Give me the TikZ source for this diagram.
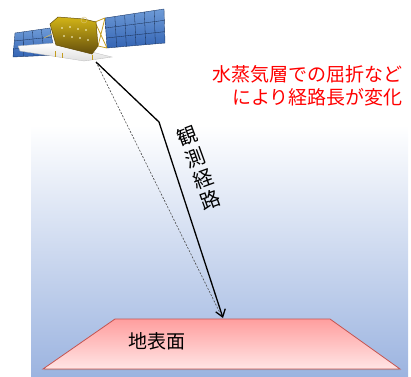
\documentclass[tikz,border=0pt]{standalone}
\usepackage{fontspec}
\newfontfamily\jpfont{Noto Sans CJK JP}
\usetikzlibrary{arrows.meta, calc, shadows}
\definecolor{skyblue}{RGB}{156,180,224}
\definecolor{skymid}{RGB}{226,233,247}
\definecolor{groundtop}{RGB}{255,158,158}
\definecolor{groundbot}{RGB}{255,229,229}
\definecolor{groundline}{RGB}{196,84,80}
\definecolor{panelblue}{RGB}{52,100,180}
\definecolor{panellight}{RGB}{110,155,215}
\definecolor{bodygold}{RGB}{196,156,30}
\definecolor{bodydark}{RGB}{100,78,12}

\begin{document}
\begin{tikzpicture}[x=1pt, y=-1pt,
  ray/.style={line width=1.3pt, -{Straight Barb[length=7pt, width=10pt]}},
  straightray/.style={line width=0.6pt, gray!60!black, dash pattern=on 2pt off 1.5pt},
  panel/.style={top color=panellight, bottom color=panelblue, draw=panelblue!60!black, line width=0.4pt},
  cellline/.style={panelblue!40!black, line width=0.3pt},
  jptext/.style={font=\jpfont\fontsize{19}{23}\selectfont, inner sep=0pt}
]
  \useasboundingbox (0,0) rectangle (411,376);

  % sky band
  \shade[top color=white, middle color=skymid, bottom color=skyblue] (31,125) rectangle (408,376);

  % ground surface
  \shade[top color=groundtop, bottom color=groundbot, draw=groundline, line width=0.8pt,
    drop shadow={shadow xshift=0.8pt, shadow yshift=-1.2pt, opacity=0.35}]
    (115,319) -- (330,319) -- (400,369) -- (43,369) -- cycle;
  \node[jptext] (ground) at (157,341) {地表面};

  % satellite: solar panels
  \coordinate (la) at (15,33);  \coordinate (lb) at (50,28);
  \coordinate (lc) at (55,55);  \coordinate (ld) at (13,57);
  \coordinate (ra) at (105,18); \coordinate (rb) at (164,9);
  \coordinate (rc) at (165,43); \coordinate (rd) at (107,48);
  \path[panel] (la) -- (lb) -- (lc) -- (ld) -- cycle;
  \path[panel] (ra) -- (rb) -- (rc) -- (rd) -- cycle;
  \foreach \i in {1,2,3}
    \draw[cellline] ($(la)!\i/4!(lb)$) -- ($(ld)!\i/4!(lc)$);
  \foreach \i in {1,2}
    \draw[cellline] ($(la)!\i/3!(ld)$) -- ($(lb)!\i/3!(lc)$);
  \foreach \i in {1,...,5}
    \draw[cellline] ($(ra)!\i/6!(rb)$) -- ($(rd)!\i/6!(rc)$);
  \foreach \i in {1,2}
    \draw[cellline] ($(ra)!\i/3!(rd)$) -- ($(rb)!\i/3!(rc)$);

  % satellite: trusses
  \draw[bodygold, line width=0.8pt] (95,22) -- (105,18) (98,46) -- (107,48)
    (95,22) -- (107,48) (98,46) -- (105,18);
  \draw[bodygold!70!white, line width=0.5pt] (44,38) -- (52,34);

  % satellite: base plate
  \shade[top color=white, bottom color=gray!25, draw=gray!55, line width=0.3pt]
    (18,46) -- (55,43) -- (112,57) -- (84,61) -- (20,51) -- cycle;

  % satellite: body
  \shade[top color=bodygold!75!yellow, bottom color=bodydark, draw=bodydark, line width=0.5pt]
    (50,24) -- (58,17) -- (84,19) -- (96,22) -- (98,46) -- (92,54) -- (56,45) -- cycle;
  \foreach \p in {(62,28),(70,27),(78,29),(86,30),(64,36),(72,37),(80,38),(88,40)}
    \fill[white!85!yellow] \p circle (0.8);
  \draw[bodygold!60!white, line width=0.4pt] (84,20) circle (3);
  \draw[bodygold, line width=0.5pt] (55,51) -- (55,57) (62,53) -- (62,58) (92,55) -- (92,60);

  % observation paths
  \coordinate (sat) at (96,62);
  \coordinate (bend) at (159,122);
  \coordinate (hit) at (223,318);
  \coordinate (hitstraight) at (220,313);
  \draw[straightray] (sat) -- (hitstraight);
  \draw[ray] (sat) -- (bend) -- (hit);
  \node[jptext, font=\jpfont\fontsize{20}{22.5}\selectfont, align=center, rotate=20]
    (pathlabel) at (199,168) {観\\測\\経\\路};

  % annotation
  \node[jptext, text=red, anchor=north east, align=right] (note) at (403,65)
    {水蒸気層での屈折など\\により経路長が変化};
\end{tikzpicture}
\end{document}
